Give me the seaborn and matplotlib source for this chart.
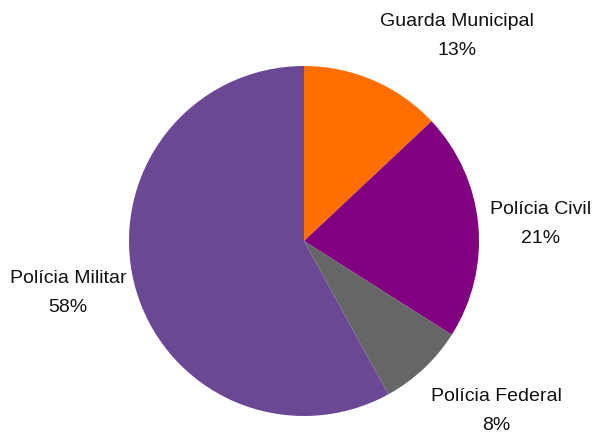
import numpy as np
import seaborn as sns
from matplotlib import pyplot as plt

# slices in clockwise order from the top
labels = ['Guarda Municipal', 'Polícia Civil', 'Polícia Federal', 'Polícia Militar']
shares = [13, 21, 8, 58]
colors = ['#FF6F00', '#800080', '#666666', '#6B4894']

# label placement (in radius units, relative to pie centre)
label_pos = [(0.874, 1.171), (1.349, 0.097), (1.097, -0.971), (-1.349, -0.297)]

sns.set_theme(style="white")
plt.rcParams['font.family'] = ['Liberation Sans', 'DejaVu Sans']

W, H = 593, 433
fig = plt.figure(figsize=(W / 100, H / 100), dpi=100)
cx, cy, r = 304, 241, 175
ax = fig.add_axes([(cx - r) / W, (H - cy - r) / H, 2 * r / W, 2 * r / H])

ax.pie(shares, colors=sns.color_palette(colors), startangle=90, counterclock=False,
       radius=1, wedgeprops=dict(linewidth=0))
ax.set_xlim(-1, 1)
ax.set_ylim(-1, 1)
ax.set_aspect('equal')
ax.axis('off')

for lab, val, (lx, ly) in zip(labels, shares, label_pos):
    ax.text(lx, ly, '{}\n{}%'.format(lab, val), ha='center', va='center',
            fontsize=14, color='#111111', linespacing=1.95, clip_on=False)

fig.savefig('out.png', dpi=100, facecolor='white')
